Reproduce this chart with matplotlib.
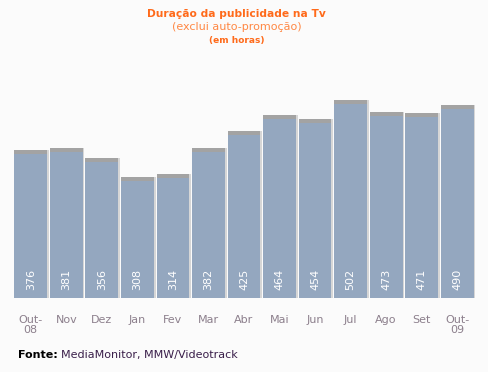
import matplotlib.pyplot as plt
import numpy as np

# -- data --
months = ["Out-\n08", "Nov", "Dez", "Jan", "Fev", "Mar", "Abr", "Mai", "Jun", "Jul", "Ago", "Set", "Out-\n09"]
hours = [376, 381, 356, 308, 314, 382, 425, 464, 454, 502, 473, 471, 490]

BG = "#fbfbfb"
BAR = "#94a7bf"
CAP = "#a3a3a3"
SHADOW = "#d6d6d6"

fig = plt.figure(figsize=(4.88, 3.72), dpi=100, facecolor=BG)
# axes bottom at baseline (y=298 px), top chosen so 502 lands at ~101 px
ax = fig.add_axes([13 / 488, 74 / 372, 462 / 488, 248 / 372], facecolor=BG)

x = np.arange(len(hours))
w = 0.92
px = 248 / 630  # pixels per unit

# shadow on right side
ax.bar(x + 0.05, hours, width=w, color=SHADOW, zorder=1)
ax.bar(x, hours, width=w, color=BAR, zorder=2)
# grey cap on top of every bar
cap = 4 / px
ax.bar(x, [cap] * len(hours), bottom=np.array(hours) - cap, width=w, color=CAP, zorder=3)

for xi, v in zip(x, hours):
    ax.text(xi, 8 / px, str(v), rotation=90, ha="center", va="bottom",
            color="white", fontsize=8, zorder=4)

ax.set_xlim(-0.5, len(hours) - 0.5)
ax.set_ylim(0, 630)
ax.set_xticks(x)
ax.set_xticklabels(months, color="#8c7f8c", fontsize=8, linespacing=1.0)
ax.tick_params(axis="x", length=0, pad=12)
ax.set_yticks([])
for s in ax.spines.values():
    s.set_visible(False)

fig.text(0.485, 1 - 14 / 372, "Duração da publicidade na Tv", ha="center", va="center",
         color="#ff6a1a", fontsize=7.7, fontweight="bold")
fig.text(0.485, 1 - 27 / 372, "(exclui auto-promoção)", ha="center", va="center",
         color="#ff8844", fontsize=8)
fig.text(0.485, 1 - 40 / 372, "(em horas)", ha="center", va="center",
         color="#ff6a1a", fontsize=6.5, fontweight="bold")

t = fig.text(18 / 488, 1 - 355 / 372, "Fonte:", ha="left", va="center",
             color="black", fontsize=8, fontweight="bold")
fig.canvas.draw()
bb = t.get_window_extent()
fig.text((bb.x1 + 3) / 488, 1 - 355 / 372, "MediaMonitor, MMW/Videotrack", ha="left", va="center",
         color="#3a1f4a", fontsize=8)

fig.savefig("out.png", dpi=100, facecolor=BG)
